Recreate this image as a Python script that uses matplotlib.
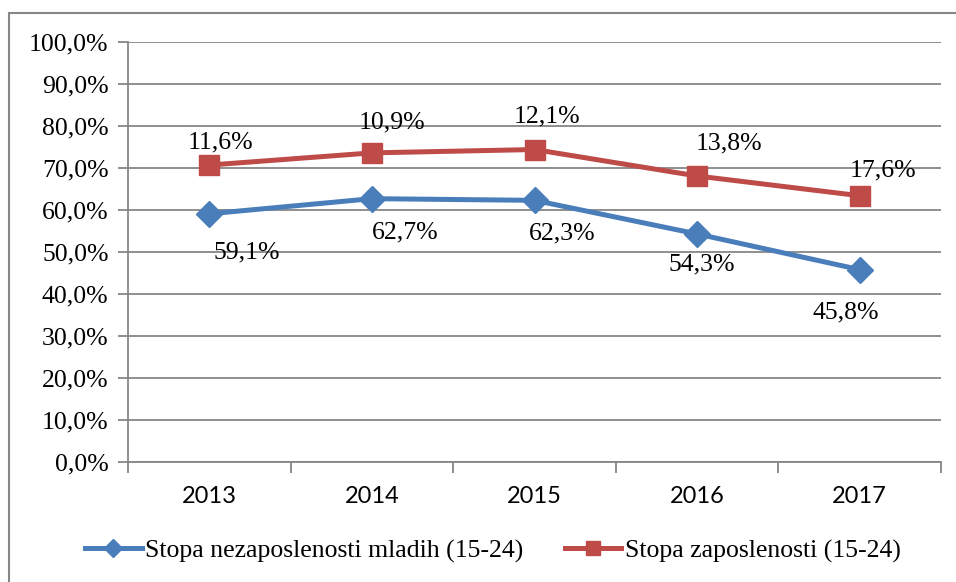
import matplotlib
matplotlib.use("Agg")
import matplotlib.pyplot as plt
from matplotlib.patches import Rectangle
from matplotlib.ticker import FuncFormatter, MultipleLocator
from matplotlib.lines import Line2D

years = ["2013", "2014", "2015", "2016", "2017"]
unemployment = [59.1, 62.7, 62.3, 54.3, 45.8]   # Stopa nezaposlenosti mladih (15-24)
employment = [11.6, 10.9, 12.1, 13.8, 17.6]     # Stopa zaposlenosti (15-24), stacked on top
series_names = ["Stopa nezaposlenosti mladih (15-24)", "Stopa zaposlenosti (15-24)"]

BLUE = "#4A7EBB"
RED = "#BE4B48"
GRID = "#868686"
SERIF = ["Liberation Serif", "DejaVu Serif"]
SANS = ["Lato", "DejaVu Sans"]
FS = 18.5

W, H = 956, 582
fig = plt.figure(figsize=(W / 100, H / 100), dpi=100)
ax = fig.add_axes([128 / W, 1 - 462 / H, (941 - 128) / W, (462 - 42) / H])

x = list(range(len(years)))
stacked = [u + e for u, e in zip(unemployment, employment)]

ax.plot(x, unemployment, color=BLUE, lw=3.6, marker="D", ms=13, mfc=BLUE, mec=BLUE, zorder=4)
ax.plot(x, stacked, color=RED, lw=3.6, marker="s", ms=14.5, mfc=RED, mec=RED, zorder=4)

# label offsets in pixels (dx, dy downward positive)
blue_off = [(37, 39), (33, 34), (28, 33), (5, 31), (-14, 43)]
red_off = [(11, -23), (20, -30), (12, -33), (32, -33), (23, -25)]

def fmt(v):
    return f"{v:.1f}".replace(".", ",") + "%"

for i in x:
    ax.annotate(fmt(unemployment[i]), (i, unemployment[i]), xytext=(blue_off[i][0] * 0.72, -blue_off[i][1] * 0.72),
                textcoords="offset points", ha="center", va="center", fontsize=FS,
                family=SERIF, color="black", zorder=5)
    ax.annotate(fmt(employment[i]), (i, stacked[i]), xytext=(red_off[i][0] * 0.72, -red_off[i][1] * 0.72),
                textcoords="offset points", ha="center", va="center", fontsize=FS,
                family=SERIF, color="black", zorder=5)

ax.set_xlim(-0.5, len(years) - 0.5)
ax.set_ylim(0, 100)
ax.yaxis.set_major_locator(MultipleLocator(10))
ax.yaxis.set_major_formatter(FuncFormatter(lambda v, p: f"{v:.1f}".replace(".", ",") + "%"))
ax.grid(axis="y", color=GRID, lw=1.3)
ax.set_axisbelow(True)

ax.set_xticks(x)
ax.set_xticklabels(years)
ax.set_xticks([i - 0.5 for i in range(len(years) + 1)], minor=True)
ax.tick_params(axis="x", which="major", length=0, pad=17)
ax.tick_params(axis="x", which="minor", length=8, width=1.3, color=GRID, direction="out")
ax.tick_params(axis="y", length=7, width=1.3, color=GRID, direction="out", pad=7)
for lab in ax.get_xticklabels():
    lab.set_family(SANS)
    lab.set_fontsize(17)
for lab in ax.get_yticklabels():
    lab.set_family(SERIF)
    lab.set_fontsize(FS)

for s in ["top", "right"]:
    ax.spines[s].set_visible(False)
for s in ["left", "bottom"]:
    ax.spines[s].set_color(GRID)
    ax.spines[s].set_linewidth(1.3)

# outer chart frame (cropped on right and bottom)
fig.patches.append(Rectangle((9 / W, -0.05), 1.1, 1 - 13 / H + 0.05, transform=fig.transFigure,
                             fill=False, ec=GRID, lw=1.5))

handles = [Line2D([], [], color=BLUE, lw=3.6, marker="D", ms=9, mfc=BLUE, mec=BLUE),
           Line2D([], [], color=RED, lw=3.6, marker="s", ms=10, mfc=RED, mec=RED)]
leg = fig.legend(handles, series_names, loc="center", bbox_to_anchor=(493 / W, 1 - 551 / H),
                 ncol=2, frameon=False, prop={"family": SERIF, "size": FS},
                 handlelength=2.2, handletextpad=0.15, columnspacing=1.6)

fig.savefig("out.png", dpi=100)
